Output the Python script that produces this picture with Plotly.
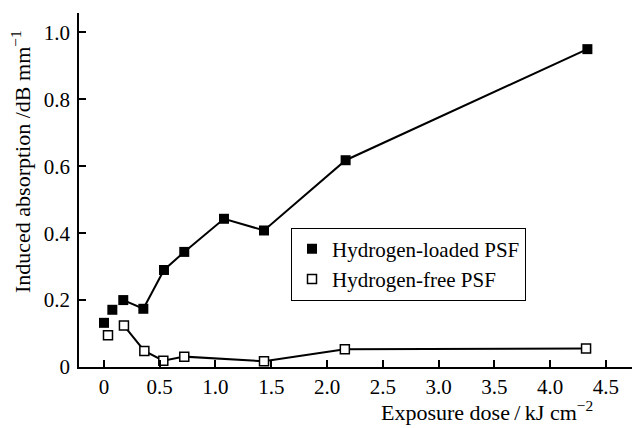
import plotly.graph_objects as go

# Data
x_loaded = [0.0, 0.075, 0.173, 0.353, 0.538, 0.72, 1.076, 1.435, 2.167, 4.335]
y_loaded = [0.132, 0.171, 0.200, 0.174, 0.290, 0.344, 0.443, 0.408, 0.618, 0.950]
loaded_line_start = 2

x_free = [0.036, 0.179, 0.362, 0.532, 0.72, 1.435, 2.16, 4.323]
y_free = [0.095, 0.124, 0.048, 0.019, 0.031, 0.017, 0.053, 0.055]
free_line_start = 1

x_ticks = [0, 0.5, 1.0, 1.5, 2.0, 2.5, 3.0, 3.5, 4.0, 4.5]
x_tick_labels = ["0", "0.5", "1.0", "1.5", "2.0", "2.5", "3.0", "3.5", "4.0", "4.5"]
y_ticks = [0, 0.2, 0.4, 0.6, 0.8, 1.0]
y_tick_labels = ["0", "0.2", "0.4", "0.6", "0.8", "1.0"]

FONT = "Liberation Serif, Times New Roman, serif"

fig = go.Figure()

fig.add_trace(go.Scatter(
    x=x_loaded[loaded_line_start:], y=y_loaded[loaded_line_start:],
    mode="lines", line=dict(color="black", width=2), showlegend=False, hoverinfo="skip"))
fig.add_trace(go.Scatter(
    x=x_free[free_line_start:], y=y_free[free_line_start:],
    mode="lines", line=dict(color="black", width=2), showlegend=False, hoverinfo="skip"))

fig.add_trace(go.Scatter(
    x=x_loaded, y=y_loaded, mode="markers", name="Hydrogen-loaded PSF",
    marker=dict(symbol="square", size=10, color="black", line=dict(color="black", width=0))))
fig.add_trace(go.Scatter(
    x=x_free, y=y_free, mode="markers", name="Hydrogen-free PSF",
    marker=dict(symbol="square", size=9, color="white", line=dict(color="black", width=1.5))))

axis_common = dict(
    showgrid=False, zeroline=False, showline=True, linecolor="black", linewidth=1.5,
    ticks="inside", ticklen=7, tickwidth=1.5, tickcolor="black",
    tickfont=dict(family=FONT, size=21, color="black"),
)

fig.update_xaxes(range=[-0.224, 4.735], tickvals=x_ticks, ticktext=x_tick_labels, **axis_common)
fig.update_yaxes(range=[0, 1.058], tickvals=y_ticks, ticktext=y_tick_labels, ticklabelstandoff=3, **axis_common)

fig.add_annotation(
    text="Exposure dose\u2009/\u2009kJ cm<sup>\u22122</sup>", xref="paper", yref="paper",
    x=(595 - 79) / 553, y=-0.125, xanchor="right", yanchor="middle", showarrow=False,
    font=dict(family=FONT, size=22, color="black"))
fig.add_annotation(
    text="Induced absorption /dB mm<sup>\u22121</sup>", xref="paper", yref="paper",
    x=(21 - 79) / 553, y=(367 - 162) / 354, xanchor="center", yanchor="middle",
    textangle=-90, showarrow=False,
    font=dict(family=FONT, size=22, color="black"))

fig.update_layout(
    width=632, height=428,
    margin=dict(l=79, r=0, t=13, b=61),
    paper_bgcolor="white", plot_bgcolor="white",
    font=dict(family=FONT, size=20, color="black"),
    legend=dict(
        x=(291 - 79) / 553, y=(367 - 264) / 354, xanchor="left", yanchor="middle",
        bordercolor="black", borderwidth=1, bgcolor="white",
        font=dict(family=FONT, size=21, color="black"),
        itemwidth=30, tracegroupgap=0,
    ),
)

fig.write_html("out.html")
